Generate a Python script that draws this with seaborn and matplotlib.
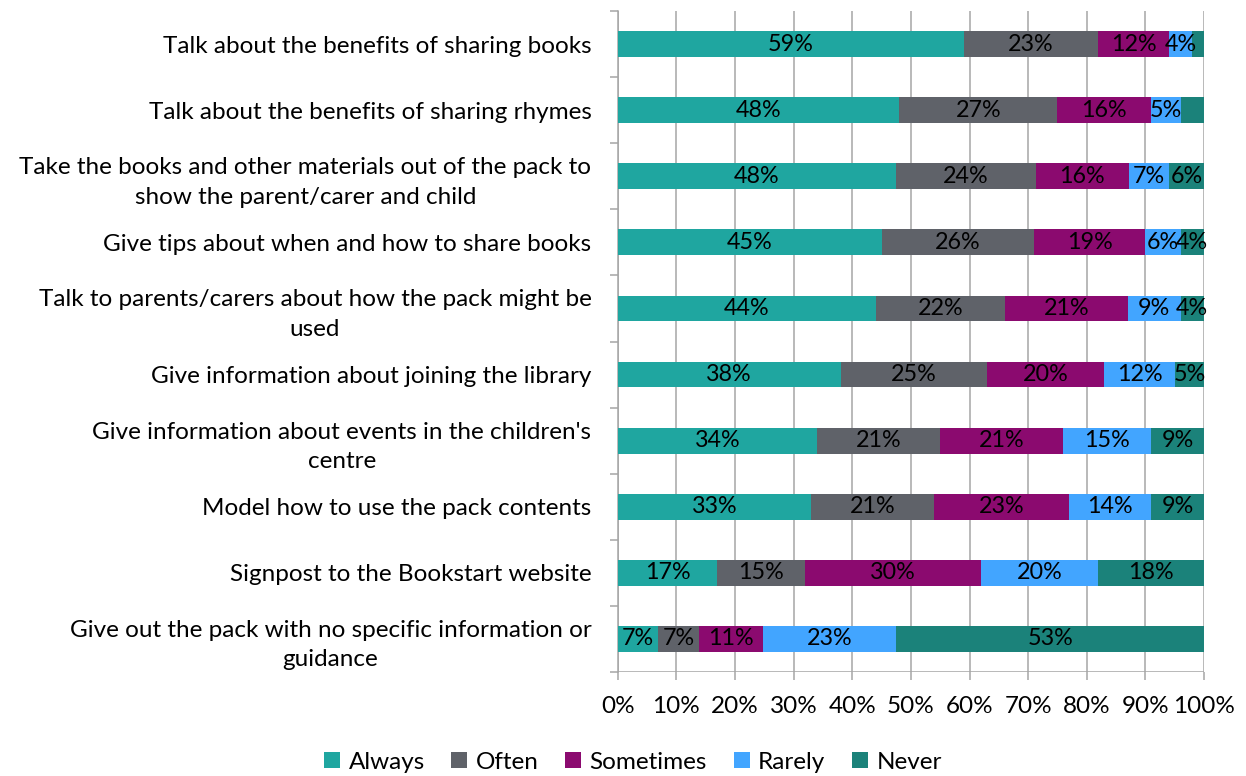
import numpy as np
import pandas as pd
import matplotlib
matplotlib.use("Agg")
import matplotlib.pyplot as plt
from matplotlib.patches import Patch
from matplotlib.ticker import FixedLocator, MultipleLocator, PercentFormatter
import seaborn as sns

# Survey activities (top to bottom)
activities = [
    "Talk about the benefits of sharing books",
    "Talk about the benefits of sharing rhymes",
    "Take the books and other materials out of the pack to\nshow the parent/carer and child",
    "Give tips about when and how to share books",
    "Talk to parents/carers about how the pack might be\nused",
    "Give information about joining the library",
    "Give information about events in the children's\ncentre",
    "Model how to use the pack contents",
    "Signpost to the Bookstart website",
    "Give out the pack with no specific information or\nguidance",
]

responses = ["Always", "Often", "Sometimes", "Rarely", "Never"]

always    = [59, 48, 48, 45, 44, 38, 34, 33, 17, 7]
often     = [23, 27, 24, 26, 22, 25, 21, 21, 15, 7]
sometimes = [12, 16, 16, 19, 21, 20, 21, 23, 30, 11]
rarely    = [4, 5, 7, 6, 9, 12, 15, 14, 20, 23]
never     = [2, 4, 6, 4, 4, 5, 9, 9, 18, 53]

# Segments whose value label is not printed: (row, response)
unlabelled = {(0, 4), (1, 4)}

colors = ["#1FA6A0", "#5F6269", "#8B0A6F", "#42A5FF", "#1B827A"]

FS = 17.5
plt.rcParams["font.family"] = ["Lato", "DejaVu Sans"]

df = pd.DataFrame(
    {"Always": always, "Often": often, "Sometimes": sometimes,
     "Rarely": rarely, "Never": never},
    index=activities,
)
# 100% stacked: each row is scaled to its own total
shares = df.div(df.sum(axis=1), axis=0) * 100
cum = shares.cumsum(axis=1)

fig = plt.figure(figsize=(12.46, 7.76), dpi=100)
ax = fig.add_axes([0.4958, 0.134, 0.4705, 0.8518])

# Draw cumulative totals from the outermost segment inwards
for resp, col in zip(reversed(responses), reversed(colors)):
    plot_df = pd.DataFrame({"value": cum[resp].values, "activity": activities})
    sns.barplot(data=plot_df, x="value", y="activity", orient="h",
                color=col, saturation=1, width=0.39, ax=ax, zorder=3)

# Value labels centred in each segment
for i, act in enumerate(activities):
    for j, resp in enumerate(responses):
        if (i, j) in unlabelled:
            continue
        val = df.loc[act, resp]
        start = cum.iloc[i, j] - shares.iloc[i, j]
        mid = start + shares.iloc[i, j] / 2
        ax.text(mid, i, f"{val}%", ha="center", va="center",
                fontsize=16.8, color="black", zorder=5)

ax.set_xlim(0, 100)
ax.set_ylim(len(activities) - 0.5, -0.5)
ax.set_xlabel("")
ax.set_ylabel("")

ax.xaxis.set_major_locator(MultipleLocator(10))
ax.xaxis.set_major_formatter(PercentFormatter(decimals=0))
ax.grid(axis="x", color="#A6A6A6", linewidth=1.1, zorder=0)
ax.grid(axis="y", visible=False)
ax.set_axisbelow(True)

for s in ["top", "right", "bottom"]:
    ax.spines[s].set_visible(False)
ax.spines["left"].set_color("#A6A6A6")
ax.spines["left"].set_linewidth(1.1)

ax.tick_params(axis="x", length=6, color="#A6A6A6", width=1.1,
               labelsize=FS, pad=11)
ax.axhline(len(activities) - 0.5, color="#A6A6A6", linewidth=1.1, zorder=1)

# Category labels between boundary tick marks
ax.tick_params(axis="y", which="major", length=0, labelsize=FS, pad=19)
ax.yaxis.set_minor_locator(FixedLocator(np.arange(-0.5, len(activities), 1.0)))
ax.tick_params(axis="y", which="minor", length=6, color="#A6A6A6", width=1.1)
for lbl in ax.get_yticklabels():
    lbl.set_multialignment("center")
    lbl.set_linespacing(1.5)

handles = [Patch(facecolor=c, edgecolor="none", label=r)
           for r, c in zip(responses, colors)]
fig.legend(handles=handles, loc="center", bbox_to_anchor=(0.508, 0.018),
           ncol=5, frameon=False, fontsize=FS, handlelength=0.65,
           handleheight=0.65, handletextpad=0.35, columnspacing=1.1)

fig.savefig("out.png", dpi=100)
